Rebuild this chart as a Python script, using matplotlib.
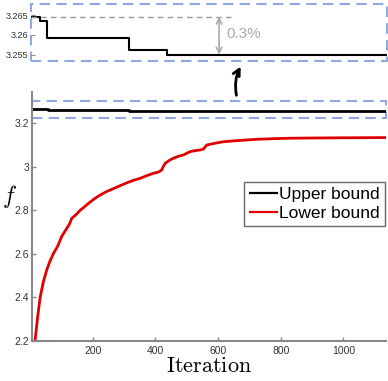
import matplotlib
matplotlib.use("Agg")
import matplotlib.pyplot as plt
from matplotlib.patches import Rectangle

plt.rcParams['font.family'] = ['Liberation Sans', 'DejaVu Sans']
plt.rcParams['mathtext.fontset'] = 'cm'

# Upper bound (step function)
upper_iter = [6, 35, 35, 58, 58, 316, 316, 439, 439, 1136]
upper_val = [3.2646, 3.2646, 3.2635, 3.2635, 3.2591, 3.2591, 3.2561, 3.2561, 3.2550, 3.2550]

# Lower bound
lower_iter = [16, 24, 32, 42, 53, 63, 74, 88, 101, 117, 125, 133, 147, 160, 173, 186, 205, 223, 245, 266,
              287, 308, 330, 351, 372, 393, 410, 420, 425, 431, 444, 457, 473, 489, 500, 510, 526, 542,
              553, 564, 590, 617, 670, 723, 776, 829, 900, 1000, 1136]
lower_val = [2.205, 2.31, 2.40, 2.47, 2.526, 2.565, 2.60, 2.635, 2.68, 2.717, 2.735, 2.763, 2.78, 2.80,
             2.815, 2.831, 2.852, 2.869, 2.886, 2.899, 2.912, 2.925, 2.937, 2.946, 2.958, 2.969, 2.975,
             2.984, 3.00, 3.015, 3.028, 3.038, 3.047, 3.053, 3.061, 3.068, 3.073, 3.076, 3.080, 3.099,
             3.107, 3.114, 3.120, 3.125, 3.128, 3.130, 3.131, 3.132, 3.133]

main_yticks = [2.2, 2.4, 2.6, 2.8, 3.0, 3.2]
main_yticklabels = ['2.2', '2.4', '2.6', '2.8', '3', '3.2']
main_xticks = [200, 400, 600, 800, 1000]
inset_yticks = [3.255, 3.26, 3.265]
inset_yticklabels = ['3.255', '3.26', '3.265']

W, H = 388, 381
fig = plt.figure(figsize=(W / 100, H / 100), dpi=100)

def px(x0, y0, x1, y1):
    return [x0 / W, 1 - y1 / H, (x1 - x0) / W, (y1 - y0) / H]

blue = '#8fa9e0'
gray_sp = '#888888'

ax = fig.add_axes(px(32, 92, 386, 341))
ax.plot(upper_iter, upper_val, color='black', lw=2, label='Upper bound')
ax.plot(lower_iter, lower_val, color='#e00000', lw=2, label='Lower bound')
ax.set_xlim(6, 1136)
ax.set_ylim(2.2, 3.342)
ax.set_yticks(main_yticks)
ax.set_yticklabels(main_yticklabels)
ax.set_xticks(main_xticks)
for s in ['top', 'right']:
    ax.spines[s].set_visible(False)
for s in ['left', 'bottom']:
    ax.spines[s].set_color(gray_sp)
    ax.spines[s].set_linewidth(1.5)
ax.tick_params(direction='in', length=3, width=1, colors=gray_sp, labelcolor='#333333', labelsize=7.5)
ax.tick_params(axis='y', pad=2)
ax.add_patch(Rectangle((6, 3.222), 1130, 0.080, fill=False, edgecolor=blue, lw=1.5,
                       linestyle=(0, (5, 3)), clip_on=False))
ax.set_ylabel(r'$f$', fontsize=17, rotation=0, labelpad=2, va='center', ha='center')
ax.yaxis.set_label_coords(-0.064, 0.58)
ax.set_xlabel(r'$\mathrm{Iteration}$', fontsize=16, labelpad=0)
leg = ax.legend(loc='upper right', bbox_to_anchor=(0.997, 0.64), fontsize=12.5, frameon=True,
                fancybox=False, handlelength=1.6, handletextpad=0.1, borderpad=0.3,
                labelspacing=0.2, borderaxespad=0.0)
leg.get_frame().set_edgecolor('#444444')
leg.get_frame().set_linewidth(1)
for l in leg.get_lines():
    l.set_linewidth(1.6)

# inset
axi = fig.add_axes(px(31, 4, 387, 61))
axi.plot(upper_iter, upper_val, color='black', lw=1.5)
axi.set_xlim(6, 1136)
axi.set_ylim(3.2534, 3.2678)
axi.set_xticks([])
axi.set_yticks(inset_yticks)
axi.set_yticklabels(inset_yticklabels)
for s in axi.spines.values():
    s.set_visible(False)
axi.tick_params(axis='y', direction='in', length=3, colors=gray_sp, labelcolor='#333333', labelsize=6.5, pad=2)
axi.add_patch(Rectangle((0, 0), 1, 1, transform=axi.transAxes, fill=False, edgecolor=blue,
                        lw=1.5, linestyle=(0, (5, 3)), clip_on=False))
axi.plot([6, 644], [3.2646, 3.2646], color='#999999', lw=1, linestyle=(0, (4, 3)))
axi.annotate('', xy=(603, 3.2550), xytext=(603, 3.2646),
             arrowprops=dict(arrowstyle='<->', color='#aaaaaa', lw=1.2, shrinkA=0, shrinkB=0))
axi.text(625, 3.2601, '0.3%', color='#aaaaaa', fontsize=11, va='center', ha='left')

# connecting arrow
fig.add_artist(matplotlib.patches.FancyArrowPatch(
    (237 / W, 1 - 98 / H), (242 / W, 1 - 64 / H), transform=fig.transFigure,
    arrowstyle='->', mutation_scale=12, lw=2, color='black',
    connectionstyle='arc3,rad=-0.2'))

fig.savefig('out.png', dpi=100)
